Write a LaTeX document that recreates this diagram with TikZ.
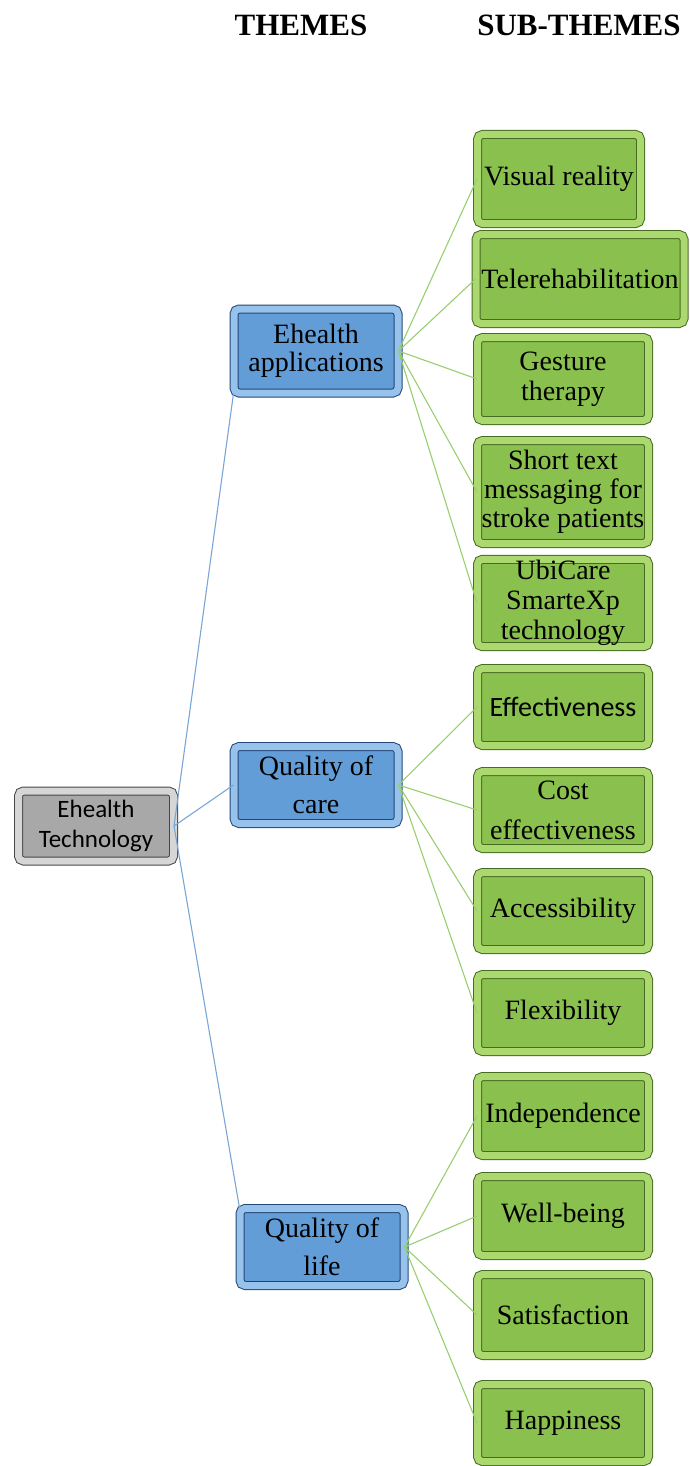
\documentclass[tikz,border=0pt]{standalone}
\usepackage{fontspec}
\setmainfont{Liberation Serif}
\newfontfamily\calibrifont{Carlito}
\usetikzlibrary{shadows}
\definecolor{greenface}{RGB}{137,192,78}
\definecolor{greenlight}{RGB}{172,216,112}
\definecolor{greenedge}{RGB}{70,108,32}
\definecolor{blueface}{RGB}{98,157,216}
\definecolor{bluelight}{RGB}{150,194,236}
\definecolor{blueedge}{RGB}{34,70,118}
\definecolor{grayface}{RGB}{168,168,168}
\definecolor{graylight}{RGB}{214,214,214}
\definecolor{grayedge}{RGB}{70,70,70}
\definecolor{blueline}{RGB}{122,166,214}
\definecolor{greenline}{RGB}{152,206,112}
\begin{document}
\begin{tikzpicture}[x=1pt,y=-1pt,
    box/.style={rectangle,rounded corners=5pt,align=center,inner sep=1pt,
      line width=1pt,double distance=7pt,
      font=\fontsize{28}{30}\selectfont,
      drop shadow={shadow xshift=2.5pt,shadow yshift=-2.5pt,fill=black!55}},
    techbox/.style={box,fill=grayface,draw=grayedge,double=graylight,
      minimum width=155pt,minimum height=70pt,
      font=\calibrifont\fontsize{25}{30}\selectfont},
    themebox/.style={box,fill=blueface,draw=blueedge,double=bluelight,
      minimum width=164pt,minimum height=77pt},
    subbox/.style={box,fill=greenface,draw=greenedge,double=greenlight,
      minimum width=171pt,minimum height=77pt},
    heading/.style={font=\bfseries\fontsize{31}{34}\selectfont},
    themeline/.style={draw=blueline,line width=1.1pt},
    subline/.style={draw=greenline,line width=1.1pt}]
  \useasboundingbox (0,0) rectangle (689,1466);
  \draw
    (301,25) node[heading] (themes){THEMES}
    (579,25) node[heading] (subthemes){SUB-THEMES};
  % root and themes
  \draw
    (96,826) node[techbox] (tech){Ehealth\\Technology}
    (316,351) node[themebox,minimum height=84pt,font=\fontsize{28}{28}\selectfont] (apps){Ehealth\\applications}
    (316,785) node[themebox,font=\fontsize{28}{38}\selectfont] (care){Quality of\\care}
    (322,1247) node[themebox,font=\fontsize{28}{38}\selectfont] (life){Quality of\\life};
  % sub-themes
  \draw
    (559,179) node[subbox,minimum width=163pt,minimum height=89pt] (vr){Visual reality}
    (580,279) node[subbox,minimum width=208pt,minimum height=89pt] (tele){Telerehabilitation}
    (563,379) node[subbox,minimum height=83pt] (gest){Gesture\\therapy}
    (563,492) node[subbox,minimum height=103pt,font=\fontsize{28}{29}\selectfont] (sms){Short text\\messaging for\\stroke patients}
    (563,603) node[subbox,minimum height=85pt] (ubi){UbiCare\\SmarteXp\\technology}
    (563,707) node[subbox,font=\calibrifont\fontsize{28}{30}\selectfont] (eff){Effectiveness}
    (563,810) node[subbox,font=\fontsize{28}{40}\selectfont] (cost){Cost\\effectiveness}
    (563,911) node[subbox] (acc){Accessibility}
    (563,1013) node[subbox] (flex){Flexibility}
    (563,1116) node[subbox,minimum height=79pt] (ind){Independence}
    (563,1216) node[subbox,minimum height=79pt] (well){Well-being}
    (563,1315) node[subbox,minimum height=81pt] (sat){Satisfaction}
    (563,1423) node[subbox] (hap){Happiness};
  \begin{scope}[themeline]
    \draw (tech.east) to (apps.south west);
    \draw (tech.east) to (care.west);
    \draw (tech.east) to (life.north west);
  \end{scope}
  \begin{scope}[subline]
    \draw (apps.east) to (vr.west);
    \draw (apps.east) to (tele.west);
    \draw (apps.east) to (gest.west);
    \draw (apps.east) to (sms.west);
    \draw (apps.east) to (ubi.west);
    \draw (care.east) to (eff.west);
    \draw (care.east) to (cost.west);
    \draw (care.east) to (acc.west);
    \draw (care.east) to (flex.west);
    \draw (life.east) to (ind.west);
    \draw (life.east) to (well.west);
    \draw (life.east) to (sat.west);
    \draw (life.east) to (hap.west);
  \end{scope}
\end{tikzpicture}
\end{document}
